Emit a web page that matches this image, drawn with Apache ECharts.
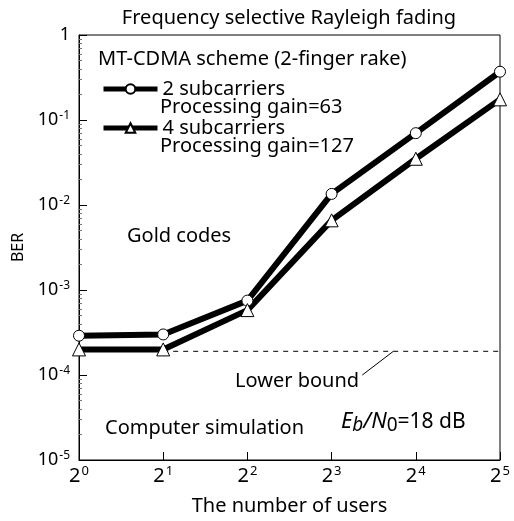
<!DOCTYPE html>
<html><head><meta charset="utf-8">
<script src="https://cdn.jsdelivr.net/npm/echarts@6/dist/echarts.min.js"></script>
<style>html,body{margin:0;padding:0;background:#fff}#c{width:514px;height:521px}</style>
</head><body><div id="c"></div>
<script>
const users = [1, 2, 4, 8, 16, 32];
const ber2sub = [2.9e-4, 3.0e-4, 7.5e-4, 1.35e-2, 7.0e-2, 0.37];
const ber4sub = [2.0e-4, 2.0e-4, 5.8e-4, 6.6e-3, 3.5e-2, 0.175];
const lowerBoundX = [2, 32];
const lowerBoundY = 1.9e-4;
const leaderX = [10.3, 13.3];
const leaderY = [1.0e-4, 1.9e-4];

const F = 'Noto Sans';
const FS = 20;
const chart = echarts.init(document.getElementById('c'));
const supX = {sup: {fontSize: 13, verticalAlign: 'top', padding: [0, 0, 9, 1], fontFamily: F, color: '#000'}};
const supY = {sup: {fontSize: 12, verticalAlign: 'top', padding: [0, 0, 8, 1], fontFamily: F, color: '#000'}};
const txt = (t, l, tp) => ({type: 'text', left: l, top: tp, style: {text: t, font: FS + 'px "Noto Sans"', fill: '#000'}});
chart.setOption({
  animation: false,
  title: {text: 'Frequency selective Rayleigh fading', left: 284, textAlign: 'center', top: 3,
    textStyle: {fontFamily: F, fontSize: FS, fontWeight: 'normal', color: '#000'}},
  grid: {left: 79, right: 14, top: 35, bottom: 58, show: true, borderColor: '#000', borderWidth: 1},
  xAxis: {type: 'log', logBase: 2, min: 1, max: 32,
    name: 'The number of users', nameLocation: 'middle', nameGap: 36,
    nameTextStyle: {fontFamily: F, fontSize: FS, color: '#000'},
    axisLine: {lineStyle: {color: '#000'}},
    axisTick: {inside: true, length: 8, lineStyle: {color: '#000'}},
    splitLine: {show: false},
    axisLabel: {fontFamily: F, fontSize: 20, color: '#000', margin: 5,
      formatter: v => '2{sup|' + Math.round(Math.log2(v)) + '}', rich: supX}},
  yAxis: {type: 'log', min: 1e-5, max: 1,
    name: 'BER', nameLocation: 'middle', nameGap: 45,
    nameTextStyle: {fontFamily: F, fontSize: 16, color: '#000'},
    axisLine: {lineStyle: {color: '#000'}},
    axisTick: {inside: true, length: 8, lineStyle: {color: '#000'}},
    minorTick: {show: true, splitNumber: 9, length: 3, lineStyle: {color: '#777'}},
    splitLine: {show: false},
    axisLabel: {fontFamily: F, fontSize: 18, color: '#000', margin: 9,
      formatter: v => { const e = Math.round(Math.log10(v)); return e === 0 ? '1' : '10{sup|' + e + '}'; }, rich: supY}},
  legend: [
    {orient: 'vertical', left: 96, top: 74, itemWidth: 54, itemHeight: 12, itemGap: 0,
      lineStyle: {width: 5},
      textStyle: {fontFamily: F, fontSize: FS, color: '#000'},
      data: ['2 subcarriers']},
    {orient: 'vertical', left: 96, top: 113, itemWidth: 54, itemHeight: 12, itemGap: 0,
      lineStyle: {width: 5},
      textStyle: {fontFamily: F, fontSize: FS, color: '#000'},
      data: ['4 subcarriers']}
  ],
  series: [
    {name: '2 subcarriers', type: 'line', data: users.map((u, i) => [u, ber2sub[i]]),
      symbol: 'circle', symbolSize: 11, lineStyle: {color: '#000', width: 6},
      itemStyle: {color: '#fff', borderColor: '#000', borderWidth: 1}, z: 3},
    {name: '4 subcarriers', type: 'line', data: users.map((u, i) => [u, ber4sub[i]]),
      symbol: 'triangle', symbolSize: 13, lineStyle: {color: '#000', width: 6},
      itemStyle: {color: '#fff', borderColor: '#000', borderWidth: 1}, z: 3},
    {name: 'lower', type: 'line', data: lowerBoundX.map(x => [x, lowerBoundY]), symbol: 'none',
      lineStyle: {color: '#000', width: 1, type: [5, 5]}, z: 2, silent: true},
    {name: 'leader', type: 'line', data: leaderX.map((x, i) => [x, leaderY[i]]), symbol: 'none',
      lineStyle: {color: '#000', width: 1}, z: 2, silent: true}
  ],
  graphic: [
    txt('MT-CDMA scheme (2-finger rake)', 98, 49),
    txt('Processing gain=63', 160, 97),
    txt('Processing gain=127', 160, 136),
    txt('Gold codes', 127, 226),
    txt('Lower bound', 235, 371),
    txt('Computer simulation', 105, 418),
    {type: 'text', left: 341, top: 411, style: {
      text: '{i|E}{s|b}{i|/N}{s0|0}{n|=18 dB}',
      rich: {
        i: {fontFamily: F, fontSize: 22, fontStyle: 'italic', fill: '#000'},
        s: {fontFamily: F, fontSize: 19, fontStyle: 'italic', verticalAlign: 'bottom', padding: [8, 0, 0, 0], fill: '#000'},
        s0: {fontFamily: F, fontSize: 19, verticalAlign: 'bottom', padding: [8, 0, 0, 0], fill: '#000'},
        n: {fontFamily: F, fontSize: 21, fill: '#000'}
      }}}
  ]
});
</script></body></html>
